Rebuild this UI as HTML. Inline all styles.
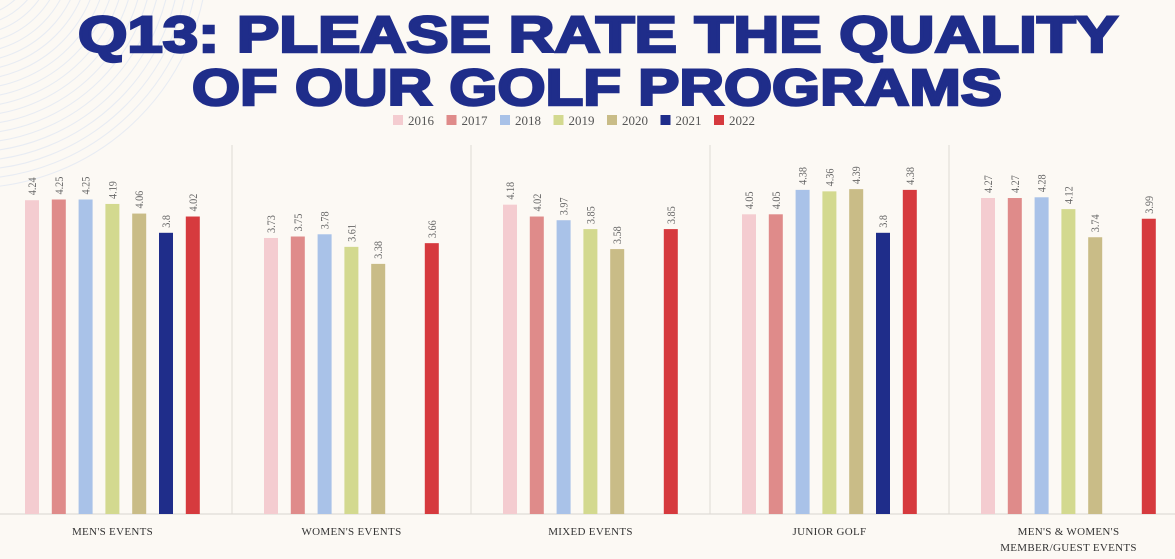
<!DOCTYPE html>
<html><head><meta charset="utf-8"><style>
html,body{margin:0;padding:0;background:#fcf9f4;}
svg{display:block;font-family:"Liberation Serif",serif;}
</style></head><body>
<svg id="chart" width="1175" height="559" viewBox="0 0 1175 559">
<rect width="1175" height="559" fill="#fcf9f4"/>
<g id="circles"></g>
<text x="78" y="52" textLength="1040" lengthAdjust="spacingAndGlyphs" font-family="Liberation Sans, sans-serif" font-weight="900" font-size="51" fill="#1f2d8a" stroke="#1f2d8a" stroke-width="2.5">Q13: PLEASE RATE THE QUALITY</text>
<text x="192" y="105" textLength="810" lengthAdjust="spacingAndGlyphs" font-family="Liberation Sans, sans-serif" font-weight="900" font-size="51" fill="#1f2d8a" stroke="#1f2d8a" stroke-width="2.5">OF OUR GOLF PROGRAMS</text>
<g id="legend"></g>
<g id="plot"></g>
</svg>
<script>
const categories = ["MEN'S EVENTS","WOMEN'S EVENTS","MIXED EVENTS","JUNIOR GOLF","MEN'S & WOMEN'S|MEMBER/GUEST EVENTS"];
const seriesNames = ["2016","2017","2018","2019","2020","2021","2022"];
const s2016 = [4.24,3.73,4.18,4.05,4.27];
const s2017 = [4.25,3.75,4.02,4.05,4.27];
const s2018 = [4.25,3.78,3.97,4.38,4.28];
const s2019 = [4.19,3.61,3.85,4.36,4.12];
const s2020 = [4.06,3.38,3.58,4.39,3.74];
const s2021 = [3.8,null,null,3.8,null];
const s2022 = [4.02,3.66,3.85,4.38,3.99];
const series = [s2016,s2017,s2018,s2019,s2020,s2021,s2022];
const colors = ["#f4ccd0","#df8b8a","#a9c2e8","#d3d98f","#c9bc87","#1f2d8a","#d63a3e"];
const NS="http://www.w3.org/2000/svg";
function mk(t,a,p){const e=document.createElementNS(NS,t);for(const k in a)e.setAttribute(k,a[k]);p.appendChild(e);return e;}
const circ=document.getElementById('circles');
for(let r=40;r<=240;r+=9){const c=mk('circle',{cx:-30,cy:-50,r:r,fill:'none',stroke:'#e8ecf3','stroke-width':1.1},circ);

}
const leg=document.getElementById('legend');
let lx=393;
seriesNames.forEach((n,i)=>{
 const r=mk('rect',{x:lx,y:115,width:10,height:10,fill:colors[i]},leg);
 
 
 const t=mk('text',{x:lx+15,y:125,'font-size':13,fill:'#555'},leg);
 t.textContent=n;
 
 
 lx+=53.5;
});
const plot=document.getElementById('plot');
const baseY=514, pxPerUnit=74, groupW=239, x0=-7;
const yPos=v=>baseY-v*pxPerUnit;
const xPos=(g,j)=>x0+g*groupW+32+j*26.8;
const ax=mk('line',{x1:0,y1:baseY,x2:1175,y2:baseY,stroke:'#d9d5cf','stroke-width':1},plot);


for(let g=1;g<categories.length;g++){
 const l=mk('line',{x1:x0+g*groupW,y1:145,x2:x0+g*groupW,y2:baseY,stroke:'#dedad4','stroke-width':1},plot);
 
 
}
categories.forEach((c,g)=>{
 const cx=x0+g*groupW+groupW/2;
 c.split('|').forEach((line,k)=>{
  const t=mk('text',{x:cx,y:535+k*16,'text-anchor':'middle','font-size':11,fill:'#333','letter-spacing':'0.3'},plot);
  t.textContent=line;
  
  
 });
 series.forEach((s,j)=>{
  const v=s[g]; if(v==null) return;
  const x=xPos(g,j), y=yPos(v);
  const b=mk('rect',{x:x,y:y,width:14,height:baseY-y,fill:colors[j]},plot);
  
  
  const t=mk('text',{x:0,y:0,transform:`translate(${x+11},${y-5}) rotate(-90) scale(0.85,1)`,'font-size':12,fill:'#666'},plot);
  t.textContent=String(v);
  
  
 });
});
</script>
</body></html>
